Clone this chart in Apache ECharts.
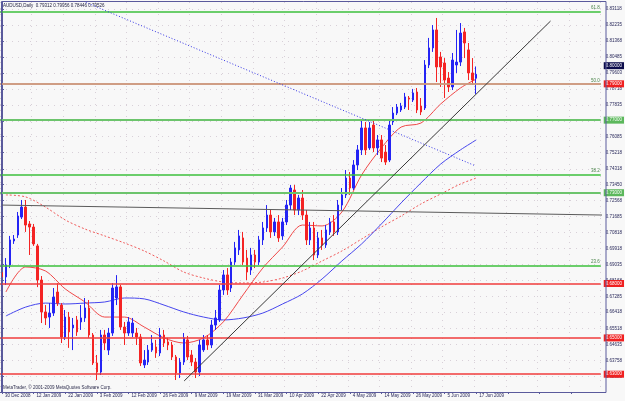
<!DOCTYPE html>
<html>
<head>
<meta charset="utf-8">
<title>AUDUSD Daily</title>
<script src="https://cdn.jsdelivr.net/npm/echarts@6/dist/echarts.min.js"></script>
<style>
  html, body { margin: 0; padding: 0; background: #f8f8f8; }
  #chart { width: 625px; height: 401px; }
</style>
</head>
<body>
<div id="chart"></div>
<script>
// AUDUSD, Daily - 30 Dec 2008 .. 17 Jun 2009

var tickLabels = ["30 Dec 2008", "12 Jan 2009", "22 Jan 2009", "3 Feb 2009", "12 Feb 2009", "26 Feb 2009",
  "9 Mar 2009", "19 Mar 2009", "31 Mar 2009", "10 Apr 2009", "22 Apr 2009", "4 May 2009",
  "14 May 2009", "26 May 2009", "5 Jun 2009", "17 Jun 2009"];

var priceTicks = [0.83118, 0.82235, 0.81368, 0.80485, 0.79603, 0.78718, 0.77835, 0.76950, 0.76085,
  0.75218, 0.74318, 0.73450, 0.72568, 0.71685, 0.70818, 0.69918, 0.69035, 0.68168, 0.67285,
  0.66418, 0.65518, 0.64635, 0.63758, 0.62885, 0.62018];

var open = [0.6860, 0.6836, 0.6902, 0.7034, 0.7067, 0.7166, 0.7221, 0.7128, 0.7111, 0.7007,
  0.6819, 0.6643, 0.6615, 0.6637, 0.6753, 0.6681, 0.6505, 0.6615, 0.6555, 0.6599,
  0.6588, 0.6610, 0.6665, 0.6516, 0.6362, 0.6312, 0.6516, 0.6433, 0.6527, 0.6720,
  0.6781, 0.6560, 0.6527, 0.6527, 0.6527, 0.6505, 0.6351, 0.6367, 0.6433, 0.6450,
  0.6417, 0.6516, 0.6478, 0.6461, 0.6395, 0.6307, 0.6367, 0.6489, 0.6406, 0.6367,
  0.6312, 0.6434, 0.6489, 0.6461, 0.6571, 0.6599, 0.6764, 0.6847, 0.6775, 0.6918,
  0.6985, 0.7051, 0.6940, 0.6874, 0.6957, 0.6918, 0.7040, 0.7106, 0.7177, 0.7084,
  0.7139, 0.7062, 0.7139, 0.7232, 0.7315, 0.7205, 0.7271, 0.7177, 0.7040, 0.7106,
  0.6957, 0.7051, 0.7012, 0.7084, 0.7139, 0.7084, 0.7232, 0.7288, 0.7381, 0.7326,
  0.7453, 0.7536, 0.7657, 0.7547, 0.7673, 0.7547, 0.7591, 0.7524, 0.7480, 0.7690,
  0.7739, 0.7756, 0.7772, 0.7822, 0.7811, 0.7855, 0.7778, 0.7767, 0.8004, 0.8098,
  0.8197, 0.8048, 0.8015, 0.7932, 0.7883, 0.8004, 0.8020, 0.8186, 0.8087, 0.7960,
  0.79312];
var high = [0.6905, 0.6940, 0.7062, 0.7067, 0.7194, 0.7260, 0.7260, 0.7144, 0.7128, 0.7018,
  0.6841, 0.6681, 0.6692, 0.6775, 0.6802, 0.6692, 0.6654, 0.6643, 0.6610, 0.6621,
  0.6681, 0.6720, 0.6709, 0.6527, 0.6406, 0.6544, 0.6544, 0.6555, 0.6802, 0.6846,
  0.6792, 0.6588, 0.6615, 0.6610, 0.6555, 0.6522, 0.6433, 0.6461, 0.6516, 0.6489,
  0.6555, 0.6544, 0.6500, 0.6478, 0.6406, 0.6389, 0.6527, 0.6511, 0.6433, 0.6389,
  0.6489, 0.6516, 0.6516, 0.6599, 0.6654, 0.6792, 0.6874, 0.6885, 0.6940, 0.7029,
  0.7095, 0.7084, 0.6985, 0.6996, 0.6985, 0.7062, 0.7139, 0.7232, 0.7205, 0.7161,
  0.7177, 0.7161, 0.7260, 0.7343, 0.7343, 0.7288, 0.7315, 0.7205, 0.7139, 0.7139,
  0.7084, 0.7095, 0.7122, 0.7161, 0.7177, 0.7260, 0.7326, 0.7425, 0.7414, 0.7480,
  0.7563, 0.7701, 0.7690, 0.7690, 0.7701, 0.7618, 0.7618, 0.7563, 0.7701, 0.7772,
  0.7789, 0.7795, 0.7850, 0.7833, 0.7872, 0.7877, 0.7822, 0.8031, 0.8153, 0.8224,
  0.8263, 0.8076, 0.8042, 0.7965, 0.8070, 0.8197, 0.8235, 0.8208, 0.8125, 0.8042,
  0.79956];
var low = [0.6790, 0.6792, 0.6885, 0.7018, 0.7051, 0.7155, 0.7084, 0.6957, 0.7007, 0.6780,
  0.6582, 0.6571, 0.6555, 0.6621, 0.6676, 0.6472, 0.6489, 0.6445, 0.6433, 0.6511,
  0.6544, 0.6588, 0.6500, 0.6351, 0.6268, 0.6296, 0.6433, 0.6406, 0.6511, 0.6681,
  0.6544, 0.6461, 0.6511, 0.6505, 0.6461, 0.6345, 0.6334, 0.6351, 0.6423, 0.6390,
  0.6400, 0.6450, 0.6433, 0.6378, 0.6268, 0.6279, 0.6351, 0.6378, 0.6345, 0.6279,
  0.6290, 0.6423, 0.6434, 0.6444, 0.6544, 0.6588, 0.6737, 0.6737, 0.6753, 0.6902,
  0.6957, 0.6902, 0.6819, 0.6847, 0.6885, 0.6902, 0.7012, 0.7084, 0.7051, 0.7062,
  0.7029, 0.7040, 0.7122, 0.7205, 0.7177, 0.7177, 0.7150, 0.7012, 0.7012, 0.6929,
  0.6940, 0.6985, 0.6996, 0.7067, 0.7062, 0.7067, 0.7205, 0.7271, 0.7288, 0.7315,
  0.7425, 0.7508, 0.7508, 0.7536, 0.7524, 0.7508, 0.7469, 0.7453, 0.7469, 0.7673,
  0.7728, 0.7745, 0.7761, 0.7756, 0.7800, 0.7739, 0.7728, 0.7756, 0.7987, 0.8076,
  0.7910, 0.7883, 0.7822, 0.7855, 0.7866, 0.7960, 0.7998, 0.8042, 0.7921, 0.7894,
  0.78446];
var close = [0.6836, 0.6902, 0.7040, 0.7045, 0.7172, 0.7221, 0.7122, 0.7111, 0.7018, 0.6819,
  0.6643, 0.6610, 0.6637, 0.6725, 0.6692, 0.6505, 0.6615, 0.6533, 0.6571, 0.6533,
  0.6610, 0.6665, 0.6516, 0.6362, 0.6312, 0.6516, 0.6472, 0.6527, 0.6775, 0.6781,
  0.6560, 0.6527, 0.6588, 0.6582, 0.6505, 0.6362, 0.6378, 0.6433, 0.6472, 0.6417,
  0.6516, 0.6472, 0.6461, 0.6395, 0.6307, 0.6367, 0.6500, 0.6395, 0.6367, 0.6312,
  0.6461, 0.6489, 0.6461, 0.6571, 0.6610, 0.6764, 0.6847, 0.6764, 0.6918, 0.6996,
  0.7062, 0.6918, 0.6863, 0.6957, 0.6918, 0.7040, 0.7106, 0.7177, 0.7084, 0.7139,
  0.7051, 0.7139, 0.7232, 0.7326, 0.7205, 0.7271, 0.7177, 0.7040, 0.7106, 0.6957,
  0.7051, 0.7012, 0.7095, 0.7139, 0.7084, 0.7232, 0.7288, 0.7381, 0.7326, 0.7453,
  0.7536, 0.7657, 0.7536, 0.7657, 0.7547, 0.7591, 0.7491, 0.7469, 0.7673, 0.7739,
  0.7772, 0.7778, 0.7828, 0.7816, 0.7850, 0.7756, 0.7745, 0.8004, 0.8098, 0.8197,
  0.7993, 0.7993, 0.7921, 0.7883, 0.8031, 0.8020, 0.8180, 0.8125, 0.7960, 0.7921,
  0.79526];

// moving averages, read at every 5th bar
var maBars = [1, 6, 11, 16, 21, 26, 31, 36, 41, 46, 51, 56, 61, 66, 71, 76, 81, 86, 91, 96, 101, 106, 111, 116, 120];
var maFast = [0.6753, 0.6891, 0.6869, 0.6770, 0.6698, 0.6615, 0.6615, 0.6560, 0.6500, 0.6472,
  0.6500, 0.6588, 0.6737, 0.6885, 0.7001, 0.7122, 0.7117, 0.7194, 0.7398, 0.7547,
  0.7662, 0.7684, 0.7789, 0.7877, 0.7927];
var maMid = [0.6621, 0.6670, 0.6692, 0.6687, 0.6692, 0.6698, 0.6720, 0.6715, 0.6681, 0.6643,
  0.6615, 0.6599, 0.6610, 0.6637, 0.6687, 0.6742, 0.6825, 0.6924, 0.7018, 0.7128,
  0.7244, 0.7354, 0.7458, 0.7536, 0.7591];
var maSlow = [0.7288, 0.7277, 0.7221, 0.7150, 0.7100, 0.7062, 0.7023, 0.6979, 0.6924, 0.6863,
  0.6830, 0.6808, 0.6803, 0.6808, 0.6830, 0.6869, 0.6924, 0.6979, 0.7045, 0.7111,
  0.7172, 0.7238, 0.7293, 0.7348, 0.7381];

// drawn objects: trend lines [bar, price]
var trendDotted = [[19.8, 0.8362], [119.8, 0.7448]];
var trendUp = [[46.1, 0.6263], [138.8, 0.8246]];
var trendFlat = [[0, 0.7232], [152.1, 0.7177]];

var fibLevels = [0.8319, 0.7878, 0.7437, 0.6891];
var fibNames = ["61.8", "50.0", "38.2", "23.6"];
var greenLevels = [0.7734, 0.7313];
var redLevels = [0.7917, 0.6806, 0.6511, 0.6330];
var lastPrice = 0.79526;

var SLOTS = 152;
var FONT = "Liberation Sans";
var AXIS = "#5a5a9c";

// trading days (weekdays, no 1 Jan)
var dates = [];
var d = new Date(Date.UTC(2008, 11, 30));
while (dates.length < open.length) {
  var wd = d.getUTCDay();
  var key = d.toISOString().slice(0, 10);
  if (wd !== 0 && wd !== 6 && key !== "2009-01-01") dates.push(key);
  d.setUTCDate(d.getUTCDate() + 1);
}
var cats = [];
for (var i = 0; i < SLOTS; i++) cats.push(i < dates.length ? dates[i] : "");

var candles = open.map(function (o, i) { return [o, close[i], low[i], high[i]]; });

function pairs(xs, ys) { return xs.map(function (x, j) { return [x, ys[j]]; }); }

var boxLabel = function (bg) {
  return {
    show: true, position: "end", distance: 3,
    formatter: function (p) { return p.value.toFixed(5); },
    backgroundColor: bg, color: "#ffffff", fontSize: 4.5, fontFamily: FONT,
    padding: [1, 2]
  };
};

// horizontal levels
var levelLines = [];
fibLevels.forEach(function (v, j) {
  levelLines.push({
    yAxis: v,
    lineStyle: { color: "#3cc03c", width: 1.5, type: "solid", opacity: 1 },
    label: { show: true, position: "insideEndTop", distance: 1, formatter: fibNames[j],
      color: "#4a844a", fontSize: 4.5, fontFamily: FONT }
  });
});
greenLevels.forEach(function (v) {
  levelLines.push({ yAxis: v, lineStyle: { color: "#6cc46c", width: 2, type: "solid", opacity: 1 }, label: boxLabel("#5cb85c") });
});
redLevels.forEach(function (v, j) {
  levelLines.push({
    yAxis: v,
    lineStyle: { color: j === 0 ? "#f08c8c" : "#f03c3c", width: 1.5, type: "solid", opacity: 1 },
    label: boxLabel("#f02020")
  });
});
levelLines.push({ yAxis: lastPrice, lineStyle: { color: "rgba(0,0,0,0)", width: 1 }, label: boxLabel("#0c0c4c") });

var chart = echarts.init(document.getElementById("chart"));
var option = {
  animation: false,
  backgroundColor: "#f8f8f8",
  textStyle: { fontFamily: FONT },
  grid: { left: -4.3, top: 2, width: SLOTS * 4, height: 390 },
  xAxis: [
    {
      type: "category",
      data: cats,
      boundaryGap: true,
      axisLine: { lineStyle: { color: AXIS, width: 1 } },
      axisTick: { show: true, interval: 7, length: 2, alignWithLabel: true, lineStyle: { color: AXIS } },
      axisLabel: {
        interval: 7, align: "left", padding: [0, 0, 0, 3], margin: 1,
        fontSize: 4.5, color: "#28285a",
        formatter: function (v, idx) { return idx % 8 === 0 ? (tickLabels[idx / 8] || "") : ""; }
      },
      splitLine: { show: true, interval: 7, lineStyle: { color: "#d8d0d8", type: [1, 5], width: 1 } }
    },
    { type: "value", min: -0.5, max: SLOTS - 0.5, show: false }
  ],
  yAxis: {
    type: "value",
    position: "right",
    offset: 2,
    min: 0.6202,
    max: 0.8351,
    axisLine: { show: true, lineStyle: { color: AXIS, width: 1 } },
    axisTick: { show: true, length: 2, customValues: priceTicks, lineStyle: { color: AXIS } },
    axisLabel: {
      customValues: priceTicks, margin: 3, fontSize: 4.5, color: "#28285a",
      formatter: function (v) { return v.toFixed(5); }
    },
    splitLine: { show: true, lineStyle: { color: "#d8d0d8", type: [1, 5], width: 1 } }
  },
  series: [
    {
      name: "levels", type: "line", xAxisIndex: 1, data: [], z: 2,
      lineStyle: { color: "#3cc03c" }, itemStyle: { color: "#3cc03c" },
      markLine: { silent: true, symbol: ["none", "none"], animation: false, data: levelLines }
    },
    {
      name: "MA slow", type: "line", xAxisIndex: 1, data: pairs(maBars, maSlow),
      smooth: 0.3, symbol: "none", lineStyle: { color: "#f05a5a", width: 1, type: [2, 2] }, z: 3
    },
    {
      name: "MA mid", type: "line", xAxisIndex: 1, data: pairs(maBars, maMid),
      smooth: 0.3, symbol: "none", lineStyle: { color: "#4646ee", width: 1 }, z: 3
    },
    {
      name: "MA fast", type: "line", xAxisIndex: 1, data: pairs(maBars, maFast),
      smooth: 0.3, symbol: "none", lineStyle: { color: "#f04848", width: 1 }, z: 3
    },
    {
      name: "AUDUSD", type: "candlestick", data: candles, barWidth: 2, z: 4,
      itemStyle: { color: "#2424f4", color0: "#f42424", borderColor: "#2424f4", borderColor0: "#f42424", borderWidth: 1 }
    },
    {
      name: "trend 1", type: "line", xAxisIndex: 1, data: trendDotted, symbol: "none",
      lineStyle: { color: "#3434e4", width: 1, type: [1, 2] }, z: 5
    },
    {
      name: "trend 2", type: "line", xAxisIndex: 1, data: trendUp, symbol: "none",
      lineStyle: { color: "#383838", width: 1 }, z: 5
    },
    {
      name: "trend 3", type: "line", xAxisIndex: 1, data: trendFlat, symbol: "none",
      lineStyle: { color: "#5a5a5a", width: 1 }, z: 5
    }
  ],
  graphic: [
    {
      type: "rect", silent: true, z: 10,
      shape: { x: 1.5, y: 1.5, width: 604.5, height: 391 },
      style: { fill: null, stroke: AXIS, lineWidth: 1 }
    },
    {
      type: "text", left: 3, top: 3, z: 10,
      style: { text: "AUDUSD,Daily  0.79312 0.79956 0.78446 0.79526", fill: "#1c1c3c", fontSize: 4.5, fontFamily: FONT }
    },
    {
      type: "text", left: 3, top: 385, z: 10,
      style: { text: "MetaTrader, \u00a9 2001-2009 MetaQuotes Software Corp.", fill: "#2c2c4c", fontSize: 4.5, fontFamily: FONT }
    }
  ]
};
chart.setOption(option);
</script>
</body>
</html>
